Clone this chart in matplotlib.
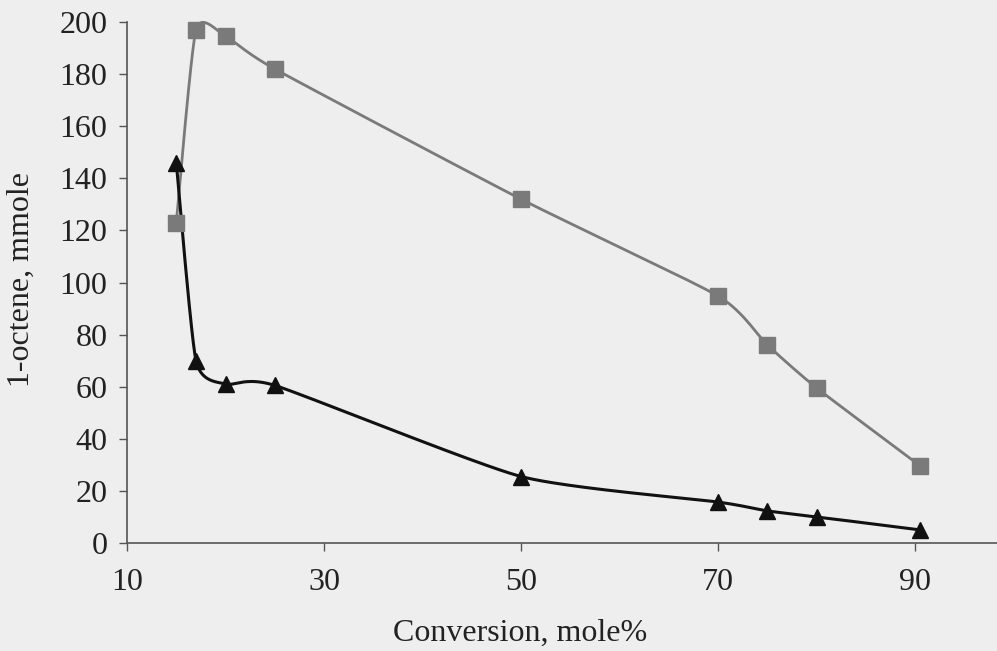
import numpy as np
import matplotlib.pyplot as plt

# data
conv = [15, 17, 20, 25, 50, 70, 75, 80, 90.5]
octene_sq = [123, 197, 194.6, 182, 132, 94.8, 76, 59.5, 29.6]
octene_tri = [146, 70, 61, 60.5, 25.5, 15.7, 12.3, 10, 5]

xticks = [10, 30, 50, 70, 90]
yticks = list(range(0, 201, 20))


def smooth(x, y, k=0.1, n=40):
    # smoothed line through the points (bezier, excel style)
    P = np.column_stack([np.asarray(x, float), np.asarray(y, float)])
    P = np.vstack([P[0], P, P[-1]])
    t = np.linspace(0, 1, n)[:, None]
    out = []
    for i in range(1, len(P) - 2):
        p0, p1, p2, p3 = P[i - 1], P[i], P[i + 1], P[i + 2]
        c1 = p1 + (p2 - p0) * k
        c2 = p2 - (p3 - p1) * k
        out.append((1 - t) ** 3 * p1 + 3 * (1 - t) ** 2 * t * c1
                   + 3 * (1 - t) * t ** 2 * c2 + t ** 3 * p2)
    out = np.vstack(out)
    return out[:, 0], out[:, 1]


plt.rcParams['font.family'] = ['Liberation Serif', 'DejaVu Serif']

bg = '#eeeeee'
fig = plt.figure(figsize=(9.97, 6.51), dpi=100, facecolor=bg)
ax = fig.add_axes([0.1274, 0.166, 0.8726, 0.800])
ax.set_facecolor(bg)

sx, sy = smooth(conv, octene_sq)
ax.plot(sx, sy, color='#7a7a7a', lw=2, zorder=2, clip_on=False)
ax.plot(conv, octene_sq, ls='none', marker='s', ms=11, color='#7a7a7a', zorder=3, clip_on=False)

tx, ty = smooth(conv, octene_tri)
ax.plot(tx, ty, color='#111111', lw=2.2, zorder=2)
ax.plot(conv, octene_tri, ls='none', marker='^', ms=12, color='#111111', zorder=3)

ax.set_xlim(10, 98.3)
ax.set_ylim(0, 200)
ax.set_xticks(xticks)
ax.set_yticks(yticks)

for s in ['top', 'right']:
    ax.spines[s].set_visible(False)
for s in ['left', 'bottom']:
    ax.spines[s].set_color('#555555')
    ax.spines[s].set_linewidth(1.2)

ax.tick_params(axis='both', direction='out', length=6, width=1, color='#555555',
               labelsize=23, labelcolor='#222222')
ax.tick_params(axis='x', pad=12)
ax.tick_params(axis='y', pad=8)

ax.set_xlabel('Conversion, mole%', fontsize=23, color='#222222')
ax.xaxis.set_label_coords(0.452, -0.145)
ax.set_ylabel('1-octene, mmole', fontsize=23, color='#222222')
ax.yaxis.set_label_coords(-0.105, 0.505)

fig.savefig('out.png', dpi=100, facecolor=bg)
